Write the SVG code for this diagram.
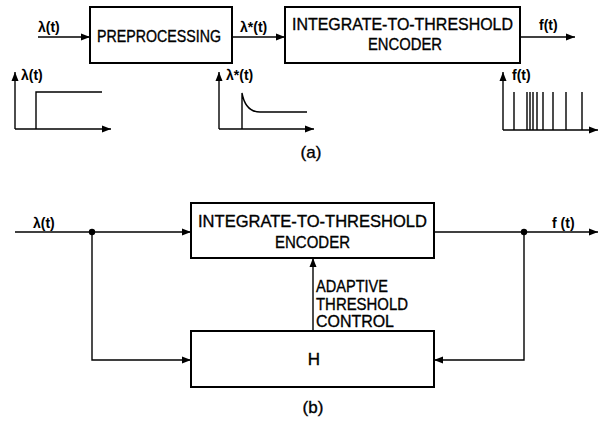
<svg xmlns="http://www.w3.org/2000/svg" width="601" height="427" viewBox="0 0 601 427">
<defs>
<marker id="arr" markerUnits="userSpaceOnUse" markerWidth="10" markerHeight="8" refX="9" refY="4" orient="auto">
<path d="M0,0.5 L9,4 L0,7.5 Z" fill="#000"/>
</marker>
<style>
.box{fill:#fff;stroke:#000;stroke-width:2}
.ln{fill:none;stroke:#000;stroke-width:1.4}
.ax{fill:none;stroke:#000;stroke-width:1.4}
.t{font-family:"Liberation Sans",Arial,sans-serif;font-size:17px;fill:#000;stroke:#000;stroke-width:0.35}
.s{font-family:"Liberation Sans",Arial,sans-serif;font-size:14px;font-weight:bold;fill:#000}
.c{text-anchor:middle}
</style>
</defs>
<rect width="601" height="427" fill="#fff"/>

<!-- (a) nodes -->
<g id="preprocessing">
<rect class="box" x="90" y="7" width="142" height="56"/>
<text class="t c" x="159" y="42" font-size="15.5" textLength="124" lengthAdjust="spacingAndGlyphs">PREPROCESSING</text>
</g>
<g id="encoder-a">
<rect class="box" x="285" y="7" width="235" height="56"/>
<text class="t c" x="402.5" y="30" textLength="221" lengthAdjust="spacingAndGlyphs">INTEGRATE-TO-THRESHOLD</text>
<text class="t c" x="405" y="50" textLength="74" lengthAdjust="spacingAndGlyphs">ENCODER</text>
</g>

<g id="connectors-a">
<line class="ln" x1="38" y1="37" x2="90" y2="37" marker-end="url(#arr)"/>
<line class="ln" x1="232" y1="37" x2="285" y2="37" marker-end="url(#arr)"/>
<line class="ln" x1="520" y1="37" x2="575" y2="37" marker-end="url(#arr)"/>
</g>
<g id="labels-a">
<text class="s" x="38" y="32">λ(t)</text>
<text class="s" x="240" y="32" font-size="13">λ*(t)</text>
<text class="s" x="539" y="30">f(t)</text>
</g>

<!-- plot 1: step input -->
<g id="plot-input">
<line class="ax" x1="15" y1="129" x2="15" y2="72" marker-end="url(#arr)"/>
<line class="ax" x1="15" y1="129" x2="111" y2="129" marker-end="url(#arr)"/>
<path class="ln" d="M36,129 V92 H102"/>
<text class="s" x="21" y="80">λ(t)</text>
</g>

<!-- plot 2: preprocessed -->
<g id="plot-pre">
<line class="ax" x1="219" y1="129" x2="219" y2="72" marker-end="url(#arr)"/>
<line class="ax" x1="219" y1="129" x2="314" y2="129" marker-end="url(#arr)"/>
<path class="ln" d="M242,129 V93 C244,104 249,112 260,112 H307"/>
<text class="s" x="226" y="80">λ*(t)</text>
</g>

<!-- plot 3: pulse train -->
<g id="plot-out">
<line class="ax" x1="503" y1="130" x2="503" y2="72" marker-end="url(#arr)"/>
<line class="ax" x1="503" y1="130" x2="598" y2="130" marker-end="url(#arr)"/>
<path class="ln" d="M514,130 V92 M527,130 V92 M530,130 V92 M533,130 V92 M537,130 V92 M543,130 V92 M553,130 V92 M566,130 V92 M582,130 V92"/>
<text class="s" x="512" y="80">f(t)</text>
</g>

<text class="t c" x="311" y="158" font-size="15">(a)</text>

<!-- (b) nodes -->
<g id="encoder-b">
<rect class="box" x="191" y="203" width="243" height="55"/>
<text class="t c" x="312.5" y="227" textLength="229" lengthAdjust="spacingAndGlyphs">INTEGRATE-TO-THRESHOLD</text>
<text class="t c" x="312.5" y="248" textLength="75" lengthAdjust="spacingAndGlyphs">ENCODER</text>
</g>
<g id="h-block">
<rect class="box" x="191" y="331" width="243" height="56"/>
<text class="t c" x="314" y="365">H</text>
</g>

<g id="connectors-b">
<line class="ln" x1="15" y1="232" x2="191" y2="232" marker-end="url(#arr)"/>
<path class="ln" d="M92,232 V360 H191" marker-end="url(#arr)"/>
<line class="ln" x1="434" y1="232" x2="598" y2="232" marker-end="url(#arr)"/>
<path class="ln" d="M524,232 V360 H434" marker-end="url(#arr)"/>
<line class="ln" x1="313" y1="331" x2="313" y2="258" marker-end="url(#arr)"/>
<circle cx="92" cy="232" r="3.2" fill="#000"/>
<circle cx="524" cy="232" r="3.2" fill="#000"/>
</g>
<g id="labels-b">
<text class="s" x="33" y="228">λ(t)</text>
<text class="s" x="552" y="228">f (t)</text>
<text class="t" x="316" y="292" font-size="14.5" textLength="72" lengthAdjust="spacingAndGlyphs">ADAPTIVE</text>
<text class="t" x="316" y="309.5" font-size="14.5" textLength="92" lengthAdjust="spacingAndGlyphs">THRESHOLD</text>
<text class="t" x="316" y="327" font-size="14.5" textLength="78" lengthAdjust="spacingAndGlyphs">CONTROL</text>
</g>

<text class="t c" x="313" y="413" font-size="15">(b)</text>
</svg>
